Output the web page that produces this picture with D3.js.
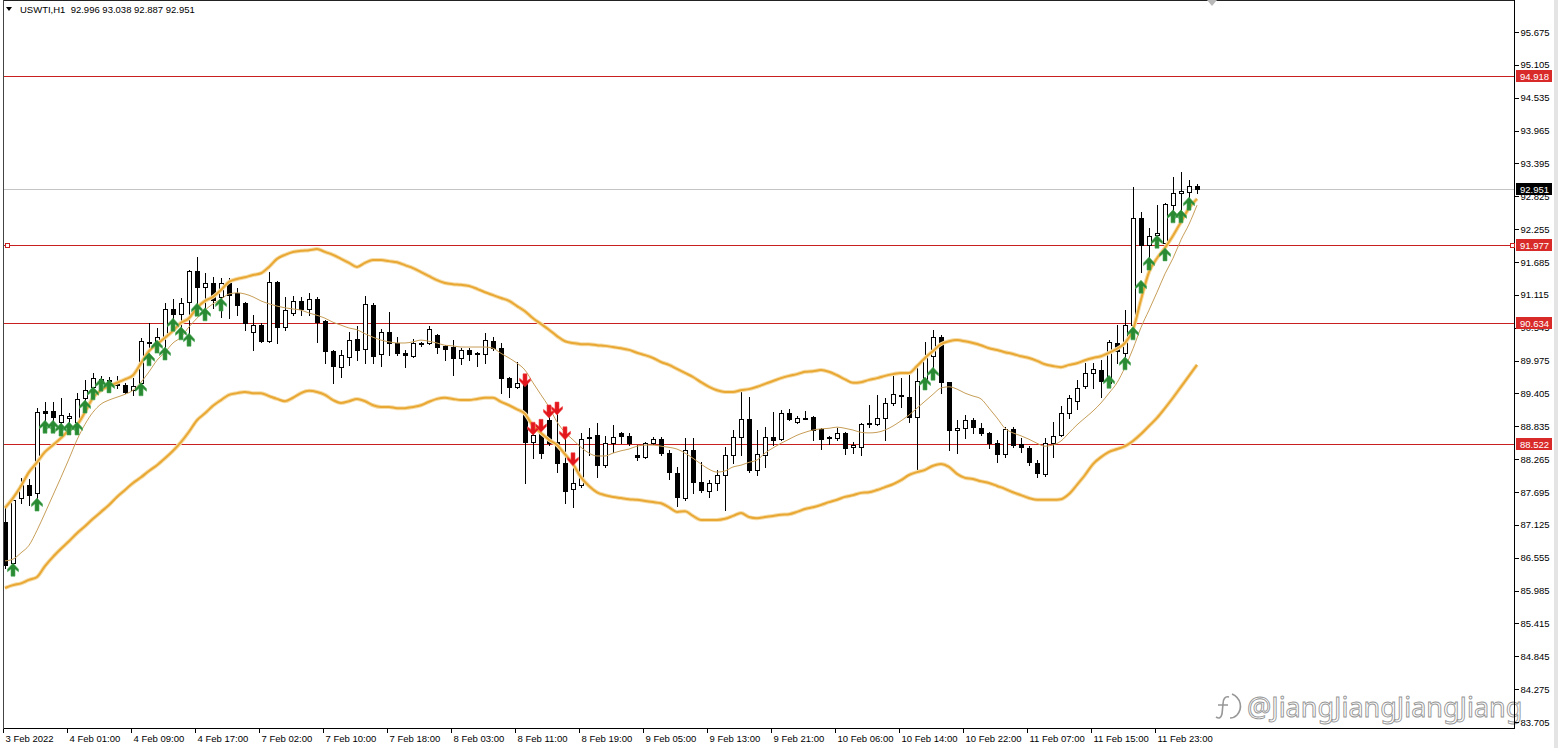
<!DOCTYPE html>
<html><head><meta charset="utf-8">
<script src="https://cdn.jsdelivr.net/npm/d3@7"></script>
<style>
html,body{margin:0;padding:0;background:#fff;overflow:hidden;}
svg{display:block;}
text{font-family:"Liberation Sans",Arial,sans-serif;}
</style></head><body>
<svg id="c" width="1558" height="748"></svg>
<script>
const symbolTitle = "USWTI,H1  92.996 93.038 92.887 92.951";
const timeLabels = ["3 Feb 2022","4 Feb 01:00","4 Feb 09:00","4 Feb 17:00","7 Feb 02:00","7 Feb 10:00","7 Feb 18:00","8 Feb 03:00","8 Feb 11:00","8 Feb 19:00","9 Feb 05:00","9 Feb 13:00","9 Feb 21:00","10 Feb 06:00","10 Feb 14:00","10 Feb 22:00","11 Feb 07:00","11 Feb 15:00","11 Feb 23:00"];
const timeLabelBars = [0,8,16,24,32,40,48,56,64,72,80,88,96,104,112,120,128,136,144];
const priceTicks = [95.675,95.105,94.535,93.965,93.395,92.825,92.255,91.685,91.115,90.545,89.975,89.405,88.835,88.265,87.695,87.125,86.555,85.985,85.415,84.845,84.275,83.705];

const opens = [87.17,86.46,87.59,87.82,87.68,89.10,89.10,88.91,88.98,88.91,
89.33,89.52,89.62,89.62,89.60,89.55,89.46,89.59,90.30,90.30,
90.40,90.87,90.78,90.99,91.53,91.25,91.32,91.08,91.32,91.15,
90.97,90.47,90.59,90.31,91.34,90.56,90.80,91.01,90.87,91.04,
90.66,90.14,89.86,90.04,90.35,90.17,90.94,90.09,90.47,90.28,
90.11,90.05,90.28,90.28,90.42,90.23,90.21,90.02,90.16,90.10,
90.09,90.31,90.19,89.67,89.52,89.59,88.56,88.72,88.94,88.56,
88.20,87.75,87.82,88.63,88.68,88.16,88.54,88.72,88.67,88.34,
88.30,88.54,88.61,88.37,88.02,87.59,88.42,87.87,87.71,87.85,
87.99,88.34,88.65,88.96,88.08,88.34,88.65,88.61,89.06,88.91,
88.98,89.00,88.79,88.65,88.63,88.72,88.47,88.47,88.87,88.87,
88.98,89.24,89.38,89.34,89.00,89.62,90.05,90.38,89.60,88.77,
88.80,88.94,88.80,88.72,88.54,88.35,88.79,88.53,88.46,88.20,
88.01,88.54,88.68,89.06,89.27,89.53,89.76,89.81,89.59,90.28,
90.11,90.59,92.45,91.98,92.15,92.01,92.67,92.88,92.90,92.996];
const highs = [87.47,87.59,87.94,87.92,89.15,89.26,89.26,89.33,89.06,89.41,
89.64,89.76,89.71,89.69,89.71,89.59,89.67,90.37,90.63,90.54,
90.97,91.04,91.06,91.55,91.77,91.49,91.42,91.41,91.41,91.23,
90.99,90.76,90.63,91.51,91.35,91.08,91.09,91.08,91.15,91.08,
90.68,90.16,90.16,90.47,90.57,91.09,90.97,90.52,90.82,90.38,
90.16,90.35,90.30,90.57,90.44,90.24,90.33,90.19,90.19,90.12,
90.45,90.38,90.28,89.69,89.95,89.72,88.89,88.94,89.17,89.24,
88.80,88.37,88.72,88.80,88.89,88.67,88.86,88.73,88.72,88.51,
88.56,88.65,88.65,88.42,88.13,88.63,88.63,88.21,87.90,88.08,
88.47,88.77,89.46,89.34,88.77,88.82,89.08,89.12,89.13,89.01,
89.10,89.01,88.80,88.67,88.80,88.73,88.56,88.89,89.20,89.38,
89.33,89.78,89.67,89.72,89.86,90.30,90.51,90.42,89.61,88.94,
89.03,88.98,88.89,88.73,88.60,88.82,88.82,88.63,88.49,88.25,
88.63,88.91,89.19,89.38,89.64,89.94,89.94,89.98,90.33,90.59,
90.85,92.99,92.55,92.27,92.67,92.71,93.16,93.25,93.11,93.038];
const lows = [86.38,86.38,87.50,87.47,87.59,88.94,88.86,88.82,88.86,88.89,
89.24,89.43,89.55,89.53,89.50,89.41,89.38,89.41,89.95,90.21,
90.16,90.64,90.45,90.28,90.80,90.73,90.89,90.73,90.71,90.76,
90.51,90.16,90.30,90.30,90.28,90.51,90.76,90.76,90.76,90.30,
89.93,89.59,89.69,89.90,89.98,89.93,89.93,89.88,90.07,90.07,
89.86,90.04,90.23,90.26,90.11,89.98,89.72,89.91,89.98,89.88,
89.93,90.16,89.41,89.34,89.50,87.85,88.28,88.28,88.51,88.04,
87.50,87.43,87.78,88.34,87.95,88.13,88.39,88.54,88.51,88.25,
88.28,88.53,88.34,87.92,87.45,87.56,87.68,87.69,87.61,87.73,
87.38,88.20,88.34,88.04,87.99,88.13,88.51,88.60,88.94,88.89,
88.96,88.60,88.44,88.53,88.60,88.35,88.37,88.34,88.82,88.86,
88.60,89.20,89.17,88.91,88.02,89.59,89.85,89.41,88.42,88.37,
88.63,88.72,88.68,88.46,88.21,88.30,88.47,88.39,88.16,87.95,
87.97,88.30,88.67,88.98,89.13,89.50,89.50,89.34,89.57,89.93,
89.86,90.57,91.51,91.72,92.07,91.94,92.59,92.59,92.81,92.887];
const closes = [86.43,87.56,87.82,87.64,89.08,89.06,89.00,89.03,89.01,89.31,
89.46,89.67,89.65,89.64,89.55,89.43,89.53,90.31,90.28,90.38,
90.87,90.78,90.97,91.53,91.25,91.32,91.03,91.32,91.11,90.94,
90.63,90.59,90.31,91.34,90.56,90.85,91.01,90.87,91.04,90.64,
90.14,89.88,90.07,90.33,90.16,90.96,90.05,90.47,90.28,90.11,
90.07,90.28,90.26,90.52,90.21,90.18,90.02,90.16,90.09,90.09,
90.33,90.19,89.67,89.52,89.59,88.56,88.68,88.37,88.54,88.20,
87.71,87.85,88.61,88.65,88.16,88.54,88.65,88.67,88.54,88.30,
88.54,88.61,88.37,88.04,87.61,88.42,87.87,87.73,87.85,87.99,
88.34,88.65,88.96,88.08,88.35,88.65,88.60,89.06,88.96,88.98,
88.97,88.77,88.61,88.64,88.72,88.46,88.51,88.87,88.89,88.98,
89.24,89.39,89.36,89.00,89.62,90.04,90.38,89.60,88.77,88.80,
88.94,88.82,88.72,88.54,88.35,88.79,88.51,88.47,88.21,88.02,
88.54,88.67,89.06,89.33,89.50,89.76,89.83,89.62,90.30,90.14,
90.59,92.45,91.98,92.14,92.19,92.69,92.88,92.92,93.00,92.951];

const upperBand = [87.42,87.59,87.80,88.04,88.21,88.39,88.51,88.63,88.77,88.86,
89.08,89.33,89.46,89.53,89.59,89.65,89.72,89.93,90.14,90.26,
90.37,90.49,90.63,90.71,90.89,91.01,91.08,91.20,91.34,91.39,
91.42,91.46,91.49,91.60,91.74,91.81,91.86,91.88,91.89,91.91,
91.86,91.81,91.74,91.67,91.60,91.67,91.72,91.72,91.70,91.68,
91.63,91.58,91.51,91.44,91.37,91.32,91.30,91.29,91.27,91.22,
91.16,91.11,91.06,91.01,90.92,90.83,90.71,90.61,90.51,90.40,
90.31,90.28,90.26,90.26,90.24,90.23,90.21,90.19,90.16,90.11,
90.07,90.02,89.95,89.90,89.83,89.76,89.69,89.60,89.52,89.46,
89.43,89.43,89.46,89.48,89.52,89.57,89.62,89.67,89.71,89.74,
89.78,89.79,89.81,89.78,89.72,89.65,89.59,89.60,89.64,89.67,
89.71,89.74,89.76,89.76,89.88,90.02,90.14,90.26,90.31,90.33,
90.31,90.28,90.24,90.19,90.16,90.12,90.09,90.05,90.02,89.97,
89.91,89.88,89.86,89.90,89.93,89.98,90.02,90.05,90.11,90.18,
90.28,90.51,91.03,91.51,91.75,91.93,92.14,92.38,92.62,92.78];
const lowerBand = [86.03,86.08,86.11,86.17,86.22,86.41,86.57,86.71,86.84,86.98,
87.10,87.23,87.35,87.47,87.61,87.73,87.85,87.95,88.06,88.16,
88.28,88.41,88.56,88.74,88.94,89.06,89.19,89.29,89.38,89.41,
89.43,89.41,89.41,89.36,89.31,89.27,89.33,89.41,89.45,89.43,
89.38,89.29,89.24,89.27,89.31,89.27,89.20,89.17,89.17,89.15,
89.15,89.17,89.20,89.26,89.31,89.33,89.31,89.29,89.29,89.31,
89.33,89.33,89.26,89.20,89.13,89.05,88.84,88.72,88.60,88.51,
88.35,88.18,87.95,87.80,87.69,87.64,87.61,87.59,87.57,87.56,
87.54,87.52,87.50,87.43,87.35,87.36,87.28,87.21,87.21,87.21,
87.23,87.28,87.33,87.26,87.24,87.26,87.28,87.30,87.31,87.35,
87.40,87.43,87.47,87.52,87.56,87.61,87.64,87.68,87.69,87.73,
87.78,87.83,87.90,87.99,88.04,88.08,88.15,88.18,88.13,88.01,
87.94,87.92,87.88,87.85,87.80,87.75,87.69,87.64,87.59,87.56,
87.56,87.56,87.57,87.66,87.82,87.99,88.18,88.30,88.39,88.44,
88.49,88.58,88.70,88.84,88.98,89.15,89.33,89.52,89.71,89.90];
const signalLine = [86.50,86.53,86.64,86.77,87.03,87.33,87.64,87.95,88.27,88.60,
88.87,89.08,89.22,89.29,89.34,89.39,89.46,89.60,89.78,89.98,
90.12,90.28,90.38,90.56,90.71,90.85,90.96,91.04,91.13,91.15,
91.13,91.08,91.01,90.96,90.92,90.89,90.87,90.85,90.80,90.76,
90.71,90.64,90.59,90.54,90.51,90.44,90.38,90.33,90.30,90.28,
90.28,90.30,90.33,90.31,90.28,90.24,90.23,90.21,90.21,90.21,
90.21,90.19,90.10,90.02,89.93,89.81,89.59,89.38,89.17,88.91,
88.73,88.60,88.47,88.37,88.32,88.32,88.37,88.41,88.44,88.49,
88.51,88.51,88.49,88.47,88.44,88.37,88.28,88.18,88.09,88.04,
88.06,88.13,88.16,88.21,88.25,88.37,88.46,88.54,88.61,88.68,
88.73,88.77,88.79,88.80,88.82,88.80,88.77,88.73,88.72,88.73,
88.77,88.84,88.93,89.03,89.15,89.27,89.39,89.50,89.52,89.48,
89.41,89.36,89.31,89.15,88.98,88.80,88.72,88.67,88.61,88.54,
88.49,88.51,88.58,88.72,88.86,88.98,89.10,89.24,89.41,89.59,
89.86,90.18,90.55,90.85,91.16,91.48,91.75,92.07,92.34,92.67];

const buySignalBars   = [1,4,5,6,7,8,9,10,11,12,13,17,18,19,20,21,22,23,24,25,27,115,116,138,140,141,142,143,144,145,146,147,148];
const buySignalPrices = [86.46,87.59,88.94,88.94,88.89,88.91,88.91,89.29,89.52,89.67,89.64,89.59,90.11,90.33,90.21,90.71,90.56,90.45,90.97,90.89,91.06,89.69,89.86,89.72,90.04,90.56,91.37,91.77,92.15,91.93,92.59,92.59,92.81];
const sellSignalBars   = [65,66,67,68,69,70,71];
const sellSignalPrices = [89.52,88.68,88.73,88.98,89.03,88.60,88.15];

const levelLines = [94.918, 91.977, 90.634, 88.522];
const lastPrice = 92.951;
const watermarkText = "@JiangJiangJiangJiang";

// ---------- drawing ----------
const svg = d3.select("#c");
const L = 3.5, R = 1514.5, T = 0.5, B = 728.5;
const x = d3.scaleLinear().domain([0, 149]).range([5, 1197]);
const y = d3.scaleLinear().domain([83.705, 95.675]).range([722, 32]);
const fmt = d3.format(".3f");

// right strip
svg.append("rect").attr("x", 1554).attr("y", 0).attr("width", 4).attr("height", 748).attr("fill", "#e4e4e4");

const plot = svg.append("g");
plot.append("clipPath").attr("id", "clip").append("rect").attr("x", 4).attr("y", 1).attr("width", 1510).attr("height", 727);
const pg = plot.append("g").attr("clip-path", "url(#clip)");

// current price line
pg.append("line").attr("x1", 4).attr("x2", 1514).attr("y1", Math.round(y(lastPrice)) + 0.5).attr("y2", Math.round(y(lastPrice)) + 0.5)
  .attr("stroke", "#c4c4c4").attr("stroke-width", 1);

// horizontal levels
pg.selectAll("line.lvl").data(levelLines).join("line").attr("class", "lvl")
  .attr("x1", 4).attr("x2", 1514)
  .attr("y1", d => Math.round(y(d)) + 0.5).attr("y2", d => Math.round(y(d)) + 0.5)
  .attr("stroke", "#c8201e").attr("stroke-width", 1);

// candles
const idx = d3.range(opens.length);
const cg = pg.append("g").attr("shape-rendering", "crispEdges");
cg.selectAll("line.wick").data(idx).join("line").attr("class", "wick")
  .attr("x1", i => Math.round(x(i)) + 0.5).attr("x2", i => Math.round(x(i)) + 0.5)
  .attr("y1", i => Math.round(y(highs[i]))).attr("y2", i => Math.round(y(lows[i])) + 1)
  .attr("stroke", "#000").attr("stroke-width", 1);
cg.selectAll("rect.body").data(idx).join("rect").attr("class", "body")
  .attr("x", i => Math.round(x(i)) - 1.5)
  .attr("width", 4)
  .attr("y", i => Math.round(y(Math.max(opens[i], closes[i]))) + 0.5)
  .attr("height", i => Math.max(1, Math.round(y(Math.min(opens[i], closes[i]))) - Math.round(y(Math.max(opens[i], closes[i])))))
  .attr("fill", i => closes[i] >= opens[i] ? "#fff" : "#000")
  .attr("stroke", "#000").attr("stroke-width", 1);

// bands & signal line
const line = d3.line().x((d, i) => x(i)).y(d => y(d)).curve(d3.curveMonotoneX);
[upperBand, lowerBand].forEach(arr => {
  pg.append("path").attr("d", line(arr)).attr("fill", "none").attr("stroke", "#f6dca6").attr("stroke-width", 4).attr("stroke-linejoin", "round");
  pg.append("path").attr("d", line(arr)).attr("fill", "none").attr("stroke", "#e9a733").attr("stroke-width", 2).attr("stroke-linejoin", "round");
});
pg.append("path").attr("d", line(signalLine)).attr("fill", "none").attr("stroke", "#c79e58").attr("stroke-width", 1);

// arrows
const upArrow = "M0,0 L5.5,6 L5.5,8.5 L2,5.8 L2,13 L-2,13 L-2,5.8 L-5.5,8.5 L-5.5,6 Z";
const downArrow = "M0,0 L5.5,-6 L5.5,-8.5 L2,-5.8 L2,-13 L-2,-13 L-2,-5.8 L-5.5,-8.5 L-5.5,-6 Z";
pg.selectAll("path.buy").data(buySignalBars).join("path").attr("class", "buy")
  .attr("d", upArrow)
  .attr("transform", (b, k) => `translate(${x(b)},${y(buySignalPrices[k])})`)
  .attr("fill", "#2a8a34").attr("stroke", "#4aa855").attr("stroke-width", 0.6);
pg.selectAll("path.sell").data(sellSignalBars).join("path").attr("class", "sell")
  .attr("d", downArrow)
  .attr("transform", (b, k) => `translate(${x(b)},${y(sellSignalPrices[k])})`)
  .attr("fill", "#e2161c").attr("stroke", "#f04848").attr("stroke-width", 0.6);

// watermark
const wm = svg.append("g").attr("opacity", 0.9);
wm.append("path").attr("d", "M1229,697 C1225,696 1223,699 1223,704 L1222,714 C1221,718 1219,719 1216,717 M1218,705 L1228,705")
  .attr("fill", "none").attr("stroke", "#8c8c8c").attr("stroke-width", 1.6);
wm.append("path").attr("d", "M1232,694 C1241,698 1243,708 1237,715 C1235,717 1233,718 1230,718")
  .attr("fill", "none").attr("stroke", "#8c8c8c").attr("stroke-width", 1.6);
wm.append("text").attr("x", 1247).attr("y", 717).text(watermarkText)
  .style("font-family", "'Noto Sans', 'DejaVu Sans', sans-serif").style("font-size", "27px")
  .attr("fill", "#fff").attr("stroke", "#8a8a8a").attr("stroke-width", 0.9);

// frame
const frame = svg.append("g").attr("shape-rendering", "crispEdges");
frame.append("line").attr("x1", L).attr("x2", L).attr("y1", 0).attr("y2", B).attr("stroke", "#444");
frame.append("line").attr("x1", L).attr("x2", R).attr("y1", T).attr("y2", T).attr("stroke", "#222");
frame.append("line").attr("x1", R).attr("x2", R).attr("y1", 0).attr("y2", B).attr("stroke", "#000");
frame.append("line").attr("x1", L).attr("x2", R).attr("y1", B).attr("y2", B).attr("stroke", "#000");

// small gray shift marker
svg.append("path").attr("d", "M1207,0 L1217,0 L1212,6 Z").attr("fill", "#b8b8b8");

// price axis
const yAxis = d3.axisRight(y).tickValues(priceTicks).tickSize(4).tickPadding(3).tickFormat(fmt);
const ya = svg.append("g").attr("transform", `translate(${R},0)`).call(yAxis);
ya.select(".domain").remove();
ya.selectAll("line").attr("stroke", "#000").attr("shape-rendering", "crispEdges");
ya.selectAll("text").style("font-size", "9.5px").attr("fill", "#000").attr("x", 6);

// time axis
const xAxis = d3.axisBottom(x).tickValues(timeLabelBars).tickSize(4).tickFormat((d, k) => timeLabels[k]);
const xa = svg.append("g").attr("transform", `translate(0,${B})`).call(xAxis);
xa.select(".domain").remove();
xa.selectAll("line").attr("stroke", "#000").attr("x1", -2.5).attr("x2", -2.5).attr("shape-rendering", "crispEdges");
xa.selectAll("text").style("font-size", "9.5px").attr("fill", "#000")
  .attr("text-anchor", "start").attr("x", 0).attr("y", 13).attr("dy", null);

// level labels
const lab = svg.append("g");
levelLines.forEach(v => {
  const yy = Math.round(y(v));
  lab.append("rect").attr("x", 1516).attr("y", yy - 6).attr("width", 36).attr("height", 12).attr("fill", "#d92a2a");
  lab.append("text").attr("x", 1520).attr("y", yy + 3.5).text(fmt(v)).style("font-size", "9.5px").attr("fill", "#fff");
});
{
  const yy = Math.round(y(lastPrice));
  lab.append("rect").attr("x", 1516).attr("y", yy - 6).attr("width", 36).attr("height", 12).attr("fill", "#000");
  lab.append("text").attr("x", 1520).attr("y", yy + 3.5).text(fmt(lastPrice)).style("font-size", "9.5px").attr("fill", "#fff");
}
// selected-object markers on 91.977
{
  const yy = Math.round(y(levelLines[1]));
  [5, 1510].forEach(xx => lab.append("rect").attr("x", xx + 0.5).attr("y", yy - 2 + 0.5).attr("width", 4).attr("height", 4)
    .attr("fill", "#fff").attr("stroke", "#c8201e").attr("stroke-width", 1));
}

// header
svg.append("path").attr("d", "M6,7 L12,7 L9,11 Z").attr("fill", "#000");
svg.append("text").attr("x", 20).attr("y", 13).text(symbolTitle).style("font-size", "9.5px").attr("fill", "#000").attr("xml:space", "preserve").style("white-space", "pre");
</script>
</body></html>
